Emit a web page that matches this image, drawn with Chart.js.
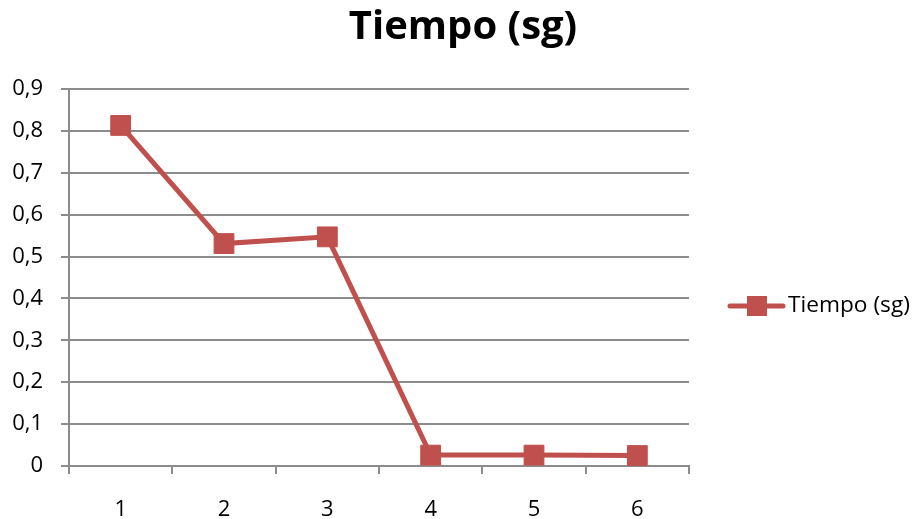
<!DOCTYPE html>
<html>
<head>
<meta charset="utf-8">
<script src="https://cdn.jsdelivr.net/npm/chart.js@4/dist/chart.umd.min.js"></script>
<style>
  html, body { margin: 0; padding: 0; background: #ffffff; }
  #wrap { width: 913px; height: 519px; }
</style>
</head>
<body>
<div id="wrap"><canvas id="c" width="913" height="519"></canvas></div>
<script>
// Chart data
const chartTitle = 'Tiempo (sg)';
const categories = ['1', '2', '3', '4', '5', '6'];
const seriesName = 'Tiempo (sg)';
const tiempoValues = [0.813, 0.531, 0.547, 0.026, 0.026, 0.025];
const yTicks = [0, 0.1, 0.2, 0.3, 0.4, 0.5, 0.6, 0.7, 0.8, 0.9];

const RED = '#C0504D';
const GRID = '#8c8c8c';
const FONT = '"Open Sans", "Liberation Sans", sans-serif';

// Title and legend painted on the canvas
const decorations = {
  id: 'decorations',
  afterDraw(chart) {
    const ctx = chart.ctx;
    ctx.save();
    ctx.fillStyle = '#000';
    ctx.font = 'bold 40px ' + FONT;
    ctx.textAlign = 'center';
    ctx.textBaseline = 'alphabetic';
    ctx.fillText(chartTitle, 463, 39);

    const ds = chart.data.datasets[0];
    const ly = 306;
    ctx.strokeStyle = RED;
    ctx.lineWidth = 5;
    ctx.lineCap = 'round';
    ctx.beginPath();
    ctx.moveTo(730, ly);
    ctx.lineTo(783, ly);
    ctx.stroke();
    ctx.fillStyle = RED;
    ctx.fillRect(747, ly - 10, 20, 20);
    ctx.fillStyle = '#000';
    ctx.font = '22.7px ' + FONT;
    ctx.textAlign = 'left';
    ctx.textBaseline = 'middle';
    ctx.fillText(ds.label, 788, ly);
    ctx.restore();
  }
};

new Chart(document.getElementById('c'), {
  type: 'line',
  data: {
    labels: categories,
    datasets: [{
      label: seriesName,
      data: tiempoValues,
      borderColor: RED,
      backgroundColor: RED,
      borderWidth: 5,
      tension: 0,
      pointStyle: 'rect',
      pointRadius: 14,
      pointHoverRadius: 14,
      pointBackgroundColor: RED,
      pointBorderColor: RED,
      pointBorderWidth: 1,
      clip: false
    }]
  },
  options: {
    responsive: false,
    animation: false,
    events: [],
    layout: { padding: { left: 0, right: 224, top: 89, bottom: 0 } },
    plugins: {
      legend: { display: false },
      title: { display: false },
      tooltip: { enabled: false }
    },
    scales: {
      x: {
        offset: true,
        grid: {
          offset: true,
          drawOnChartArea: false,
          drawTicks: true,
          tickLength: 8,
          color: GRID,
          lineWidth: 2
        },
        border: { display: true, color: GRID, width: 2 },
        ticks: {
          color: '#000',
          font: { family: FONT, size: 22 },
          padding: 23,
          maxRotation: 0
        },
        afterFit(s) { s.height = 53; }
      },
      y: {
        min: 0,
        max: 0.9,
        afterBuildTicks(s) { s.ticks = yTicks.map(v => ({ value: v })); },
        grid: {
          color: GRID,
          lineWidth: 2,
          drawTicks: true,
          tickLength: 8
        },
        border: { display: true, color: GRID, width: 2 },
        ticks: {
          color: '#000',
          font: { family: FONT, size: 22 },
          padding: 18,
          callback: v => String(Math.round(v * 10) / 10).replace('.', ',')
        },
        afterFit(s) { s.width = 69; }
      }
    }
  },
  plugins: [decorations]
});
</script>
</body>
</html>
